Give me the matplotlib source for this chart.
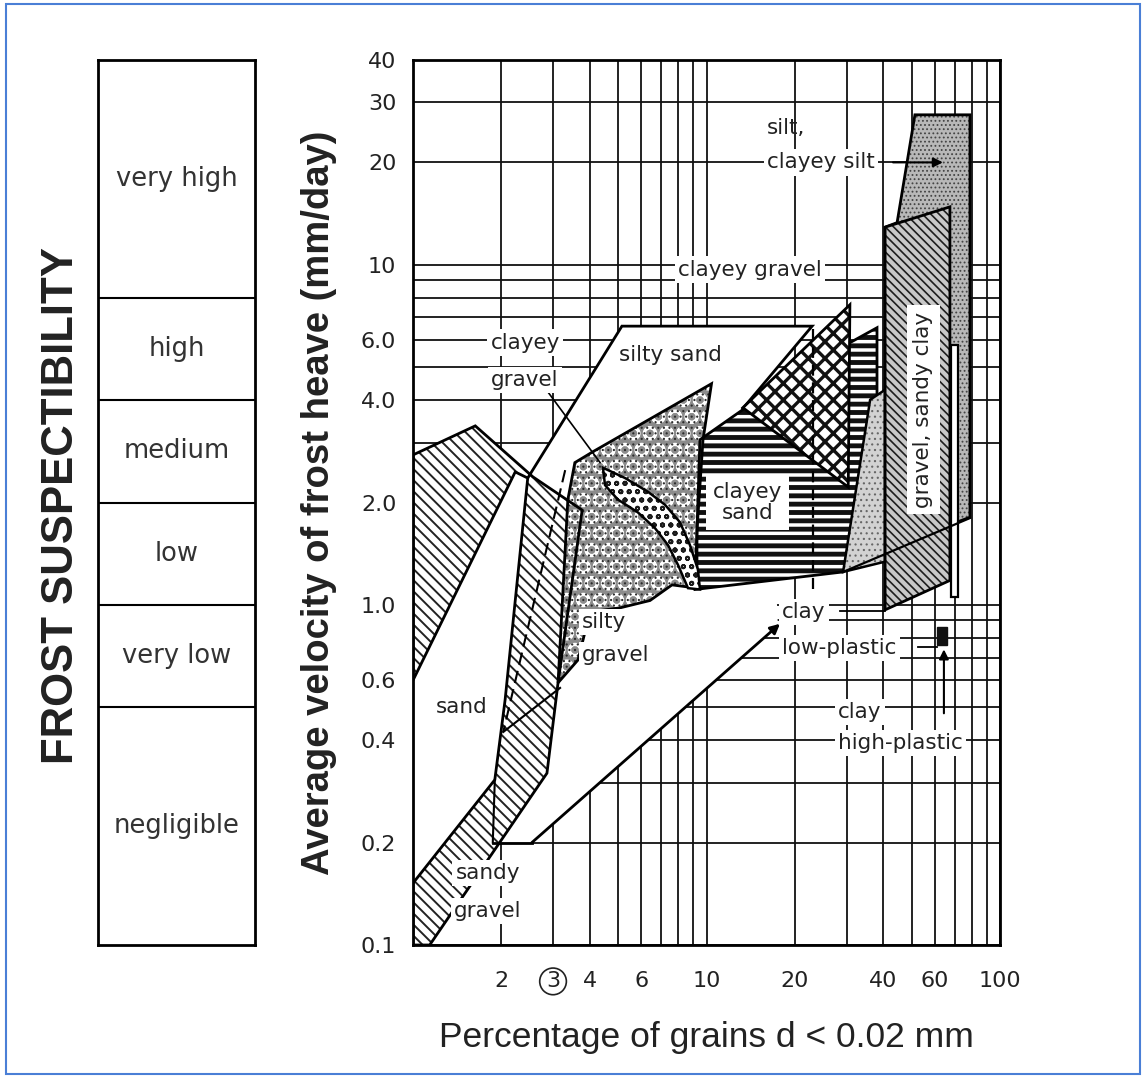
import matplotlib
matplotlib.use("Agg")
import matplotlib.pyplot as plt
from matplotlib.patches import Polygon, Rectangle

plt.rcParams["font.family"] = ["DejaVu Sans"]
title_font = ["Liberation Sans", "DejaVu Sans"]

# frost susceptibility classes and their bounds (mm/day)
susc_names = ["very high", "high", "medium", "low", "very low", "negligible"]
susc_bounds = [40, 8, 4, 2, 1, 0.5, 0.1]

# ticks
x_ticks = [2, 3, 4, 6, 10, 20, 40, 60, 100]
x_tick_labels = ["2", "3", "4", "6", "10", "20", "40", "60", "100"]
x_minor = [5, 7, 8, 9, 30, 50, 70, 80, 90]
y_ticks = [0.1, 0.2, 0.4, 0.6, 1, 2, 4, 6, 10, 20, 30, 40]
y_tick_labels = ["0.1", "0.2", "0.4", "0.6", "1.0", "2.0", "4.0", "6.0", "10", "20", "30", "40"]
y_minor = [0.3, 0.5, 0.7, 0.8, 0.9, 3, 5, 7, 8, 9]

# soil zones: percentage of grains d < 0.02 mm vs frost heave velocity (mm/day)
sand_x = [1.0, 1.63, 2.56, 3.77, 3.12, 2.86, 1.14, 1.0, 1.0, 1.90, 2.06, 2.46, 2.23, 1.0]
sand_y = [2.76, 3.36, 2.38, 1.90, 0.59, 0.32, 0.1, 0.1, 0.152, 0.306, 0.526, 2.36, 2.46, 0.60]

silty_sand_x = [1.87, 2.54, 17.5, 17.3, 13.2, 22.9, 5.15, 2.46, 2.06, 1.90]
silty_sand_y = [0.2, 0.2, 0.87, 1.11, 3.75, 6.6, 6.6, 2.36, 0.526, 0.306]

silty_gravel_x = [3.12, 3.37, 3.56, 4.10, 10.4, 9.73, 9.28, 9.28, 7.63, 6.42, 5.07, 4.01, 3.65]
silty_gravel_y = [0.59, 2.04, 2.62, 2.82, 4.47, 3.06, 1.66, 1.12, 1.145, 1.03, 0.98, 0.954, 0.689]

gravel_band_x = [4.44, 5.28, 6.32, 7.22, 8.12, 8.78, 9.35, 9.50, 8.65, 8.00, 7.39, 6.68, 5.84, 4.99, 4.51]
gravel_band_y = [2.53, 2.36, 2.15, 1.97, 1.75, 1.50, 1.27, 1.11, 1.12, 1.31, 1.50, 1.68, 1.87, 2.04, 2.25]

clayey_sand_x = [9.14, 9.50, 13.3, 30.8, 38.1, 38.1, 29.2]
clayey_sand_y = [1.11, 3.06, 3.75, 5.90, 6.53, 2.04, 1.25]

clayey_gravel_x = [13.3, 30.8, 30.4]
clayey_gravel_y = [3.80, 7.63, 2.22]

fine_x = [29.2, 36.1, 40.6, 40.6]
fine_y = [1.25, 4.01, 4.29, 1.34]

silt_x = [51.3, 79.0, 79.0, 67.5, 40.6, 40.6, 44.6]
silt_y = [27.6, 27.6, 1.81, 1.72, 1.36, 12.9, 13.3]

sandy_clay_x = [40.6, 67.5, 67.5, 40.6]
sandy_clay_y = [12.9, 14.8, 1.18, 0.967]

strip_x = [68.1, 71.9]
strip_y = [1.055, 5.82]

clay_hp_x = [61, 66]
clay_hp_y = [0.76, 0.86]


def pts(xs, ys):
    return list(zip(xs, ys))


def hatched(ax, xy, face, hatch, hcolor, hlw, z):
    with plt.rc_context({"hatch.linewidth": hlw}):
        p = Polygon(xy, closed=True, facecolor=face, edgecolor=hcolor,
                    hatch=hatch, linewidth=0, zorder=z)
    if hasattr(p, "set_hatch_linewidth"):
        p.set_hatch_linewidth(hlw)
    ax.add_patch(p)
    return p


def outline(ax, xy, z, lw=2.0, closed=True):
    ax.add_patch(Polygon(xy, closed=closed, fill=False, edgecolor="k",
                         linewidth=lw, zorder=z, joinstyle="miter"))


fig = plt.figure(figsize=(11.46, 10.78), dpi=100)
ax_l, ax_b, ax_w, ax_h = 413 / 1146, 1 - 945 / 1078, 587 / 1146, 885 / 1078
ax = fig.add_axes([ax_l, ax_b, ax_w, ax_h])
ax.set_xscale("log")
ax.set_yscale("log")
ax.set_xlim(1, 100)
ax.set_ylim(0.1, 40)

ax.set_xticks(x_ticks)
ax.set_xticklabels(x_tick_labels)
ax.set_xticks(x_minor, minor=True)
ax.set_yticks(y_ticks)
ax.set_yticklabels(y_tick_labels)
ax.set_yticks(y_minor, minor=True)
ax.tick_params(which="both", length=0)
ax.tick_params(axis="x", pad=19, labelsize=16, colors="#222")
ax.tick_params(axis="y", pad=12, labelsize=16, colors="#222")
ax.xaxis.set_minor_formatter(plt.NullFormatter())
ax.yaxis.set_minor_formatter(plt.NullFormatter())
ax.grid(which="both", color="#111", linewidth=1.3, zorder=0.5)
ax.set_axisbelow(True)
for s in ax.spines.values():
    s.set_linewidth(2)

# circled 3 on the x axis
for t in ax.get_xticklabels():
    if t.get_text() == "3":
        t.set_bbox(dict(boxstyle="circle,pad=0.15", fc="none", ec="#222", lw=1.2))

# white backgrounds that hide the grid
ax.add_patch(Polygon(pts(sand_x[:8], sand_y[:8]), closed=True, fc="white", ec="none", zorder=1))
ax.add_patch(Polygon(pts(silty_sand_x, silty_sand_y), closed=True, fc="white", ec="none", zorder=1))
outline(ax, pts(silty_sand_x[4:8], silty_sand_y[4:8]), 3, closed=False)
ax.plot(silty_sand_x[:2], silty_sand_y[:2], color="k", lw=2, zorder=3)
ax.plot([silty_sand_x[0], silty_sand_x[9]], [silty_sand_y[0], silty_sand_y[9]], color="k", lw=1.5, zorder=3)

# sand / sandy gravel
hatched(ax, pts(sand_x, sand_y), "white", "\\\\\\", "#222", 1.4, 2)
outline(ax, pts(sand_x, sand_y), 3)

# clayey sand
hatched(ax, pts(clayey_sand_x, clayey_sand_y), "white", "--", "#111", 3.5, 2)
outline(ax, pts(clayey_sand_x, clayey_sand_y), 3)

# silty gravel: pebbles on a speckled grey ground
hatched(ax, pts(silty_gravel_x, silty_gravel_y), "#8c8c8c", "O", "white", 2.0, 2.2)
hatched(ax, pts(silty_gravel_x, silty_gravel_y), "none", "...", "#2e2e2e", 0.8, 2.3)
outline(ax, pts(silty_gravel_x, silty_gravel_y), 3)

# clayey gravel band
hatched(ax, pts(gravel_band_x, gravel_band_y), "white", "oo", "#1a1a1a", 1.3, 3)
outline(ax, pts(gravel_band_x, gravel_band_y), 3.1, lw=1.8)

# clayey gravel triangle
hatched(ax, pts(clayey_gravel_x, clayey_gravel_y), "white", "xx", "#111", 2.4, 3)
outline(ax, pts(clayey_gravel_x, clayey_gravel_y), 3.1)

# fine dotted zone
hatched(ax, pts(fine_x, fine_y), "#d2d2d2", "...", "#666", 0.8, 3)
outline(ax, pts(fine_x, fine_y), 3.1, lw=1.8)

# silt, clayey silt
hatched(ax, pts(silt_x, silt_y), "#b8b8b8", "....", "#444", 0.8, 3.2)
outline(ax, pts(silt_x, silt_y), 3.3)

# gravel, sandy clay
hatched(ax, pts(sandy_clay_x, sandy_clay_y), "#c8c8c8", "\\\\\\\\", "#1e1e1e", 1.2, 3.4)
outline(ax, pts(sandy_clay_x, sandy_clay_y), 3.5)

# narrow white zone and the high-plastic clay block
ax.add_patch(Rectangle((strip_x[0], strip_y[0]), strip_x[1] - strip_x[0], strip_y[1] - strip_y[0],
                       fc="white", ec="k", lw=1.6, zorder=3.6))
ax.add_patch(Rectangle((clay_hp_x[0], clay_hp_y[0]), clay_hp_x[1] - clay_hp_x[0], clay_hp_y[1] - clay_hp_y[0],
                       fc="#111", ec="#111", lw=1, zorder=3.6))

# boundaries and leaders
ax.plot([23.1, 23.1], [1.11, 6.6], color="k", lw=1.6, ls=(0, (5, 3)), zorder=4)
ax.plot([29.2, 79.0], [1.25, 1.80], color="k", lw=1.6, zorder=4)
ax.plot([3.30, 2.03], [2.49, 0.423], color="k", lw=1.5, ls=(0, (6, 3)), zorder=4)
ax.plot([2.03, 3.17], [0.423, 0.57], color="k", lw=1.5, zorder=4)
ax.plot([2.88, 4.34], [4.23, 2.62], color="k", lw=1.2, zorder=4)
ax.plot([28.5, 40.6], [0.96, 0.96], color="k", lw=1.3, zorder=4)
ax.plot([52.6, 61.0], [0.75, 0.75], color="k", lw=1.3, zorder=4)

arrow = dict(arrowstyle="-|>", color="k", lw=2, mutation_scale=14, shrinkA=0, shrinkB=0)
ax.annotate("", xy=(17.8, 0.88), xytext=(2.54, 0.2), arrowprops=arrow, zorder=4)
ax.annotate("", xy=(63.9, 20), xytext=(43.2, 20), arrowprops=dict(arrow, lw=1.5), zorder=4)
ax.annotate("", xy=(64.4, 0.74), xytext=(64.4, 0.48), arrowprops=dict(arrow, lw=1.5), zorder=4)

# zone labels
box = dict(boxstyle="square,pad=0.15", fc="white", ec="none")
lab = dict(fontsize=15.5, color="#222", zorder=6)
ax.text(16.1, 25.3, "silt,", ha="left", va="center", **lab)
ax.text(16.1, 20.0, "clayey silt", ha="left", va="center", bbox=box, **lab)
ax.text(14.1, 9.67, "clayey gravel", ha="center", va="center", bbox=box, **lab)
ax.text(2.41, 5.9, "clayey", ha="center", va="center", bbox=box, **lab)
ax.text(2.41, 4.59, "gravel", ha="center", va="center", bbox=box, **lab)
ax.text(7.51, 5.43, "silty sand", ha="center", va="center", **lab)
ax.text(13.8, 2.0, "clayey\nsand", ha="center", va="center", linespacing=1.1,
        bbox=dict(boxstyle="square,pad=0.3", fc="white", ec="none"), **lab)
ax.text(54.7, 3.75, "gravel, sandy clay", ha="center", va="center", rotation=90,
        bbox=dict(boxstyle="square,pad=0.3", fc="white", ec="none"), **lab)
ax.text(3.77, 0.89, "silty", ha="left", va="center", bbox=box, **lab)
ax.text(3.77, 0.713, "gravel", ha="left", va="center", bbox=box, **lab)
ax.text(1.47, 0.50, "sand", ha="center", va="center", **lab)
ax.text(1.80, 0.163, "sandy", ha="center", va="center", bbox=box, **lab)
ax.text(1.80, 0.126, "gravel", ha="center", va="center", bbox=box, **lab)
ax.text(18.1, 0.954, "clay", ha="left", va="center", bbox=box, **lab)
ax.text(18.1, 0.748, "low-plastic", ha="left", va="center", bbox=box, **lab)
ax.text(28.1, 0.484, "clay", ha="left", va="center", bbox=box, **lab)
ax.text(28.1, 0.393, "high-plastic", ha="left", va="center", bbox=box, **lab)

ax.set_ylabel("Average velocity of frost heave (mm/day)", fontsize=27.5, family=title_font,
              fontweight="bold", color="#222")
ax.yaxis.set_label_coords(-76 / 587, 0.5)
ax.set_xlabel("Percentage of grains d < 0.02 mm", fontsize=25.5, family=title_font, color="#222")
ax.xaxis.set_label_coords(0.5, -76 / 885)

# frost susceptibility column on the same velocity scale
tab = fig.add_axes([98 / 1146, ax_b, 157 / 1146, ax_h])
tab.set_yscale("log")
tab.set_ylim(0.1, 40)
tab.set_xlim(0, 1)
tab.set_xticks([])
tab.set_yticks([])
tab.minorticks_off()
for s in tab.spines.values():
    s.set_linewidth(2)
for b in susc_bounds[1:-1]:
    tab.axhline(b, color="k", lw=1.5)
for name, hi, lo in zip(susc_names, susc_bounds[:-1], susc_bounds[1:]):
    tab.text(0.5, (hi * lo) ** 0.5, name, ha="center", va="center", fontsize=18.5, color="#333")

fig.text(62 / 1146, 1 - 505 / 1078, "FROST SUSPECTIBILITY", rotation=90, ha="center", va="center",
         fontsize=31.5, family=title_font, fontweight="bold", color="#222")

# thin blue frame round the page
fig.patches.append(Rectangle((6 / 1146, 0.004), 1134 / 1146, 1 - 0.004 - 4 / 1078,
                             transform=fig.transFigure, fill=False, ec="#4a7fd6", lw=1.5))

fig.savefig("out.png", dpi=100)
